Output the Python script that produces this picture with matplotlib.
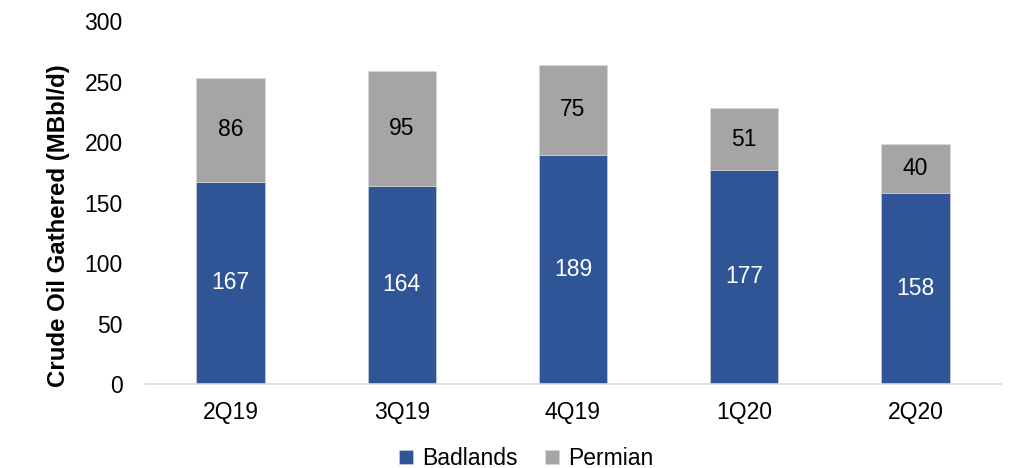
import matplotlib
matplotlib.use("Agg")
import matplotlib.pyplot as plt
import numpy as np

plt.rcParams['font.family'] = ['Liberation Sans', 'DejaVu Sans']

categories = ["2Q19", "3Q19", "4Q19", "1Q20", "2Q20"]
badlands = [167, 164, 189, 177, 158]
permian = [86, 95, 75, 51, 40]

blue = "#2F5597"
gray = "#A5A5A5"
fs = 16.5

fig = plt.figure(figsize=(10.25, 4.68), dpi=100)
ax = fig.add_axes([0.1415, 0.1795, 0.835, 0.7755])
x = np.arange(len(categories))
w = 0.4
ax.bar(x, badlands, w, color=blue, edgecolor="#D9D9D9", linewidth=0.4, label="Badlands")
ax.bar(x, permian, w, bottom=badlands, color=gray, edgecolor="#D9D9D9", linewidth=0.4, label="Permian")

for i in range(len(categories)):
    ax.text(x[i], badlands[i] / 2, str(badlands[i]), ha="center", va="center", color="white", fontsize=fs)
    ax.text(x[i], badlands[i] + permian[i] / 2, str(permian[i]), ha="center", va="center", color="black", fontsize=fs)

ax.set_xlim(-0.5, len(categories) - 0.5)
ax.set_ylim(0, 300)
ax.set_yticks(range(0, 301, 50))
ax.set_xticks(x)
ax.set_xticklabels(categories)
ax.tick_params(axis="both", length=0, labelsize=fs, colors="black")
ax.tick_params(axis="x", pad=12)
ax.tick_params(axis="y", pad=16)
for s in ["top", "right", "left"]:
    ax.spines[s].set_visible(False)
ax.spines["bottom"].set_color("#D9D9D9")
ax.spines["bottom"].set_linewidth(1.2)
ax.set_ylabel("Crude Oil Gathered (MBbl/d)", fontsize=17.3, fontweight="bold")
ax.yaxis.set_label_coords(-0.088, 0.435)

ax.legend(loc="center", bbox_to_anchor=((526 - 145) / 855, -0.205), ncol=2, frameon=False,
          fontsize=fs, handlelength=0.6, handleheight=0.6, handletextpad=0.4, columnspacing=1.2)

fig.savefig("out.png", dpi=100)
